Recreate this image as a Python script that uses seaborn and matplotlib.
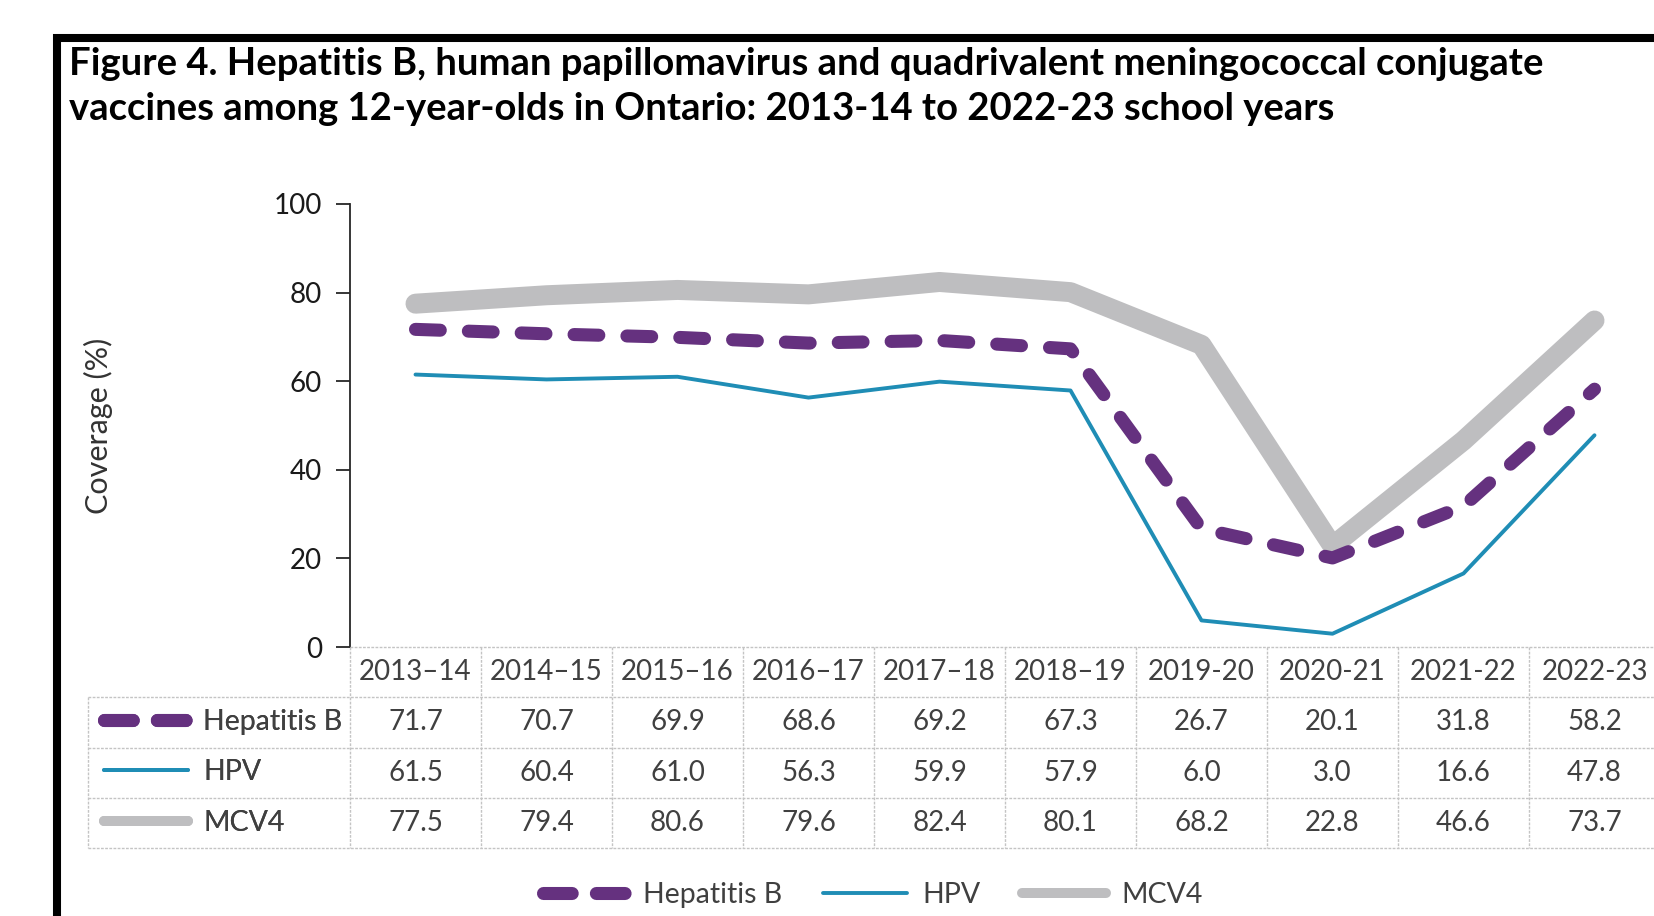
import numpy as np
import pandas as pd
import matplotlib.pyplot as plt
import seaborn as sns
from matplotlib.lines import Line2D

years = ['2013–14', '2014–15', '2015–16', '2016–17', '2017–18', '2018–19',
         '2019-20', '2020-21', '2021-22', '2022-23']
hepb = [71.7, 70.7, 69.9, 68.6, 69.2, 67.3, 26.7, 20.1, 31.8, 58.2]
hpv = [61.5, 60.4, 61.0, 56.3, 59.9, 57.9, 6.0, 3.0, 16.6, 47.8]
mcv4 = [77.5, 79.4, 80.6, 79.6, 82.4, 80.1, 68.2, 22.8, 46.6, 73.7]
series_names = ['Hepatitis B', 'HPV', 'MCV4']
yticks = [0, 20, 40, 60, 80, 100]

title = ('Figure 4. Hepatitis B, human papillomavirus and quadrivalent meningococcal conjugate\n'
         'vaccines among 12-year-olds in Ontario: 2013-14 to 2022-23 school years')

df = pd.DataFrame({'year': years * 3,
                   'coverage': hepb + hpv + mcv4,
                   'vaccine': np.repeat(series_names, len(years))})

colors = {'Hepatitis B': '#65317f', 'HPV': '#1f8db5', 'MCV4': '#bebec0'}
widths = {'Hepatitis B': 9.4, 'HPV': 2.8, 'MCV4': 14.4}
dash = (1.9, 2.15)
order = ['MCV4', 'Hepatitis B', 'HPV']  # drawing order, grey at the back

sns.set_style('white')
plt.rcParams['font.family'] = ['Lato', 'DejaVu Sans']

W, H = 1654, 916
fig = plt.figure(figsize=(W / 100, H / 100), dpi=100)

# main chart axes; x spans the 10 table columns (last one runs past the edge)
ax = fig.add_axes([350 / W, 269 / H, 1310 / W, 443 / H])
sns.lineplot(data=df, x='year', y='coverage', hue='vaccine', style='vaccine', size='vaccine',
             hue_order=order, style_order=order, size_order=order,
             palette=colors, sizes=widths,
             dashes={'Hepatitis B': dash, 'HPV': '', 'MCV4': ''},
             legend=False, sort=False, ax=ax,
             solid_capstyle='round', dash_capstyle='round', solid_joinstyle='round',
             dash_joinstyle='round')
ax.set_xlim(-0.5, len(years) - 0.5)
ax.set_ylim(0, 100)
ax.set_yticks(yticks)
ax.tick_params(axis='y', labelsize=20, length=10, width=1.3, color='#262626',
               labelcolor='#1a1a1a', pad=10, left=True)
ax.set_xticks([])
ax.set_xlabel('')
ax.set_ylabel('Coverage (%)', fontsize=22, color='#333333', labelpad=0)
ax.yaxis.set_label_coords(-0.181, 0.5)
for s in ['top', 'right', 'bottom']:
    ax.spines[s].set_visible(False)
ax.spines['left'].set_color('#262626')
ax.spines['left'].set_linewidth(1.3)

# data table under the chart, sharing the x positions of the chart
tax = fig.add_axes([350 / W, 68 / H, 1310 / W, 201 / H], sharex=ax)
tax.set_ylim(4, 0)
tax.axis('off')
grid_kw = dict(color='#c4c4c4', lw=1, linestyle=(0, (2, 1)), clip_on=False)
n = len(years)
tax.hlines(0, -0.5, n - 0.5, **grid_kw)
tax.hlines([1, 2, 3, 4], -2.5, n - 0.5, **grid_kw)
tax.vlines(np.arange(n + 1) - 0.5, 0, 4, **grid_kw)
tax.vlines(-2.5, 1, 4, **grid_kw)

txt_kw = dict(ha='center', va='center', fontsize=20, color='#404040', clip_on=False)
for i, yr in enumerate(years):
    tax.text(i, 0.5, yr, **txt_kw)
for r, vals in enumerate([hepb, hpv, mcv4]):
    for i, v in enumerate(vals):
        tax.text(i, r + 1.5, f'{v:.1f}', **txt_kw)

# legend handles
handles = [
    Line2D([], [], color=colors['Hepatitis B'], lw=9.4, linestyle=(0, (2.2, 1.85)),
           dash_capstyle='round'),
    Line2D([], [], color=colors['HPV'], lw=2.8, solid_capstyle='round'),
    Line2D([], [], color=colors['MCV4'], lw=7.2, solid_capstyle='round'),
]
leg_kw = dict(frameon=False, fontsize=20.5, handlelength=2.95, handletextpad=0.55,
              borderpad=0, borderaxespad=0, labelcolor='#404040')

row_leg = tax.legend(handles, series_names, loc='upper left', bbox_to_anchor=(-2.38, 1.23),
                     bbox_transform=tax.transData, labelspacing=0.86, **leg_kw)
tax.add_artist(row_leg)

fig.legend(handles, series_names, loc='center', bbox_to_anchor=(873 / W, 1 - 895 / H),
           ncol=3, columnspacing=1.45, **leg_kw)

# title and black frame
fig.text(69 / W, 1 - 47 / H, title, ha='left', va='top', fontsize=27.5,
         fontweight='bold', color='black', linespacing=1.4)
fig.add_artist(Line2D([53 / W, 1], [1 - 38 / H, 1 - 38 / H], color='black', lw=5.8,
                      transform=fig.transFigure, solid_capstyle='butt'))
fig.add_artist(Line2D([57 / W, 57 / W], [0, 1 - 34 / H], color='black', lw=5.8,
                      transform=fig.transFigure, solid_capstyle='butt'))

fig.savefig('out.png', dpi=100)
